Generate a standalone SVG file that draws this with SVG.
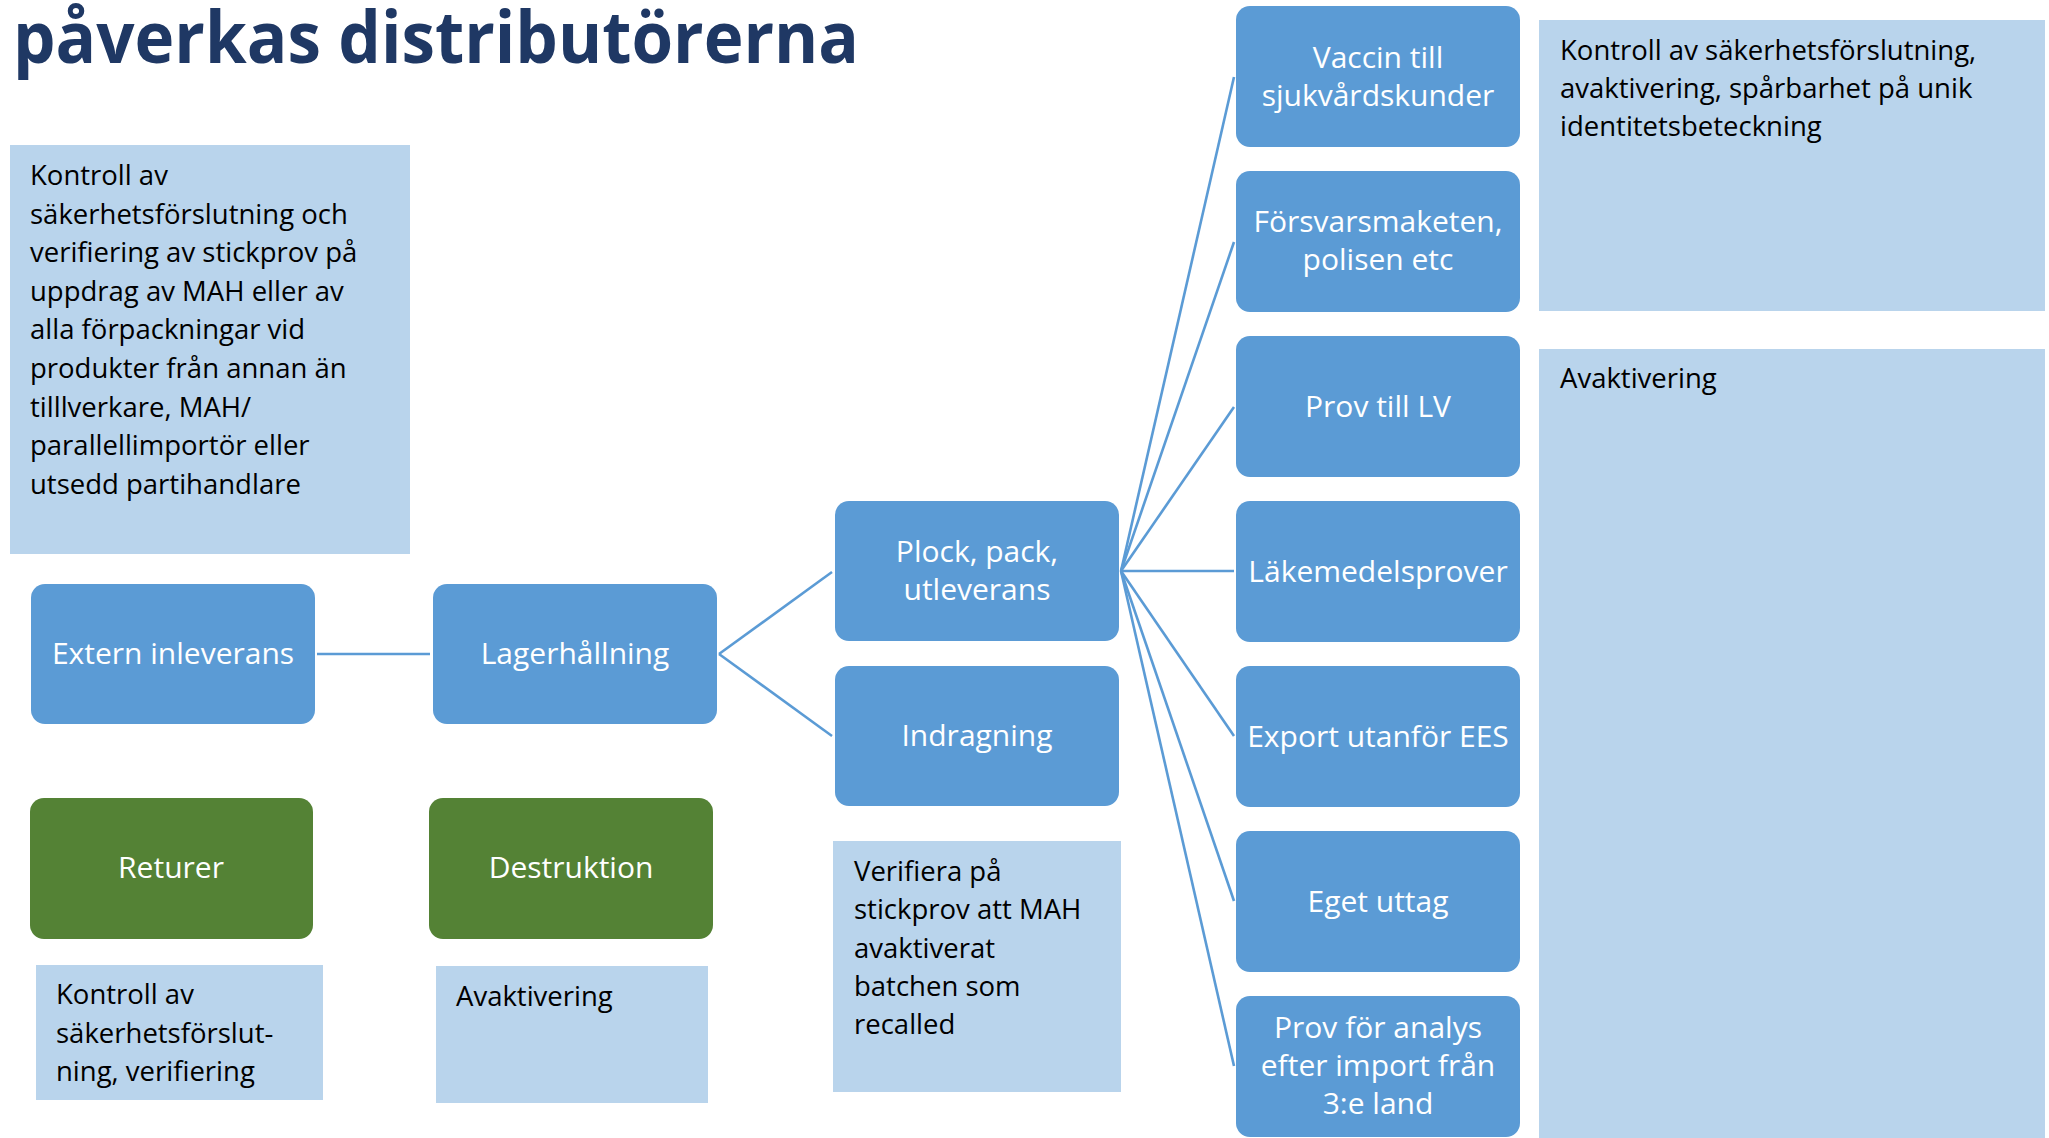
<svg xmlns="http://www.w3.org/2000/svg" width="2049" height="1138" viewBox="0 0 2049 1138">
<style>
.t{font-family:"Open Sans","Noto Sans","DejaVu Sans",sans-serif;}
.lbl{font-family:"Open Sans","Noto Sans","DejaVu Sans",sans-serif;font-size:30px;fill:#FFFFFF;text-anchor:middle;}
.note{font-family:"Open Sans","Noto Sans","DejaVu Sans",sans-serif;font-size:27.5px;fill:#000000;}
.blue{fill:#5B9BD5;}
.green{fill:#548235;}
.light{fill:#B9D4EC;}
.conn{stroke:#5B9BD5;stroke-width:2.6;fill:none;}
</style>
<rect width="2049" height="1138" fill="#FFFFFF"/>
<text class="t" x="13" y="63" font-size="71" font-weight="bold" fill="#1F3864" textLength="846" lengthAdjust="spacingAndGlyphs">påverkas distributörerna</text>

<g id="connectors">
<line class="conn" x1="317" y1="654" x2="430" y2="654"/>
<line class="conn" x1="719" y1="654" x2="832" y2="572"/>
<line class="conn" x1="719" y1="654" x2="832" y2="736"/>
<line class="conn" x1="1121" y1="571" x2="1234" y2="77"/>
<line class="conn" x1="1121" y1="571" x2="1234" y2="242"/>
<line class="conn" x1="1121" y1="571" x2="1234" y2="407"/>
<line class="conn" x1="1121" y1="571" x2="1234" y2="571"/>
<line class="conn" x1="1121" y1="571" x2="1234" y2="736"/>
<line class="conn" x1="1121" y1="571" x2="1234" y2="901"/>
<line class="conn" x1="1121" y1="571" x2="1234" y2="1066"/>
</g>

<g id="note-left">
<rect class="light" x="10" y="145" width="400" height="409"/>
<text class="note" x="30" y="185">Kontroll av</text>
<text class="note" x="30" y="224">säkerhetsförslutning och</text>
<text class="note" x="30" y="262">verifiering av stickprov på</text>
<text class="note" x="30" y="301">uppdrag av MAH eller av</text>
<text class="note" x="30" y="339">alla förpackningar vid</text>
<text class="note" x="30" y="378">produkter från annan än</text>
<text class="note" x="30" y="417">tilllverkare, MAH/</text>
<text class="note" x="30" y="455">parallellimportör eller</text>
<text class="note" x="30" y="494">utsedd partihandlare</text>
</g>

<g id="extern-inleverans">
<rect class="blue" x="31" y="584" width="284" height="140" rx="14"/>
<text class="lbl" x="173" y="664">Extern inleverans</text>
</g>
<g id="lagerhallning">
<rect class="blue" x="433" y="584" width="284" height="140" rx="14"/>
<text class="lbl" x="575" y="664">Lagerhållning</text>
</g>
<g id="plock">
<rect class="blue" x="835" y="501" width="284" height="140" rx="14"/>
<text class="lbl" x="977" y="562">Plock, pack,</text>
<text class="lbl" x="977" y="600">utleverans</text>
</g>
<g id="indragning">
<rect class="blue" x="835" y="666" width="284" height="140" rx="14"/>
<text class="lbl" x="977" y="746">Indragning</text>
</g>

<g id="returer">
<rect class="green" x="30" y="798" width="283" height="141" rx="14"/>
<text class="lbl" x="171" y="878">Returer</text>
</g>
<g id="destruktion">
<rect class="green" x="429" y="798" width="284" height="141" rx="14"/>
<text class="lbl" x="571" y="878">Destruktion</text>
</g>

<g id="note-returer">
<rect class="light" x="36" y="965" width="287" height="135"/>
<text class="note" x="56" y="1004">Kontroll av</text>
<text class="note" x="56" y="1043">säkerhetsförslut-</text>
<text class="note" x="56" y="1081">ning, verifiering</text>
</g>
<g id="note-destruktion">
<rect class="light" x="436" y="966" width="272" height="137"/>
<text class="note" x="456" y="1006">Avaktivering</text>
</g>
<g id="note-indragning">
<rect class="light" x="833" y="841" width="288" height="251"/>
<text class="note" x="854" y="881">Verifiera på</text>
<text class="note" x="854" y="919">stickprov att MAH</text>
<text class="note" x="854" y="958">avaktiverat</text>
<text class="note" x="854" y="996">batchen som</text>
<text class="note" x="854" y="1034">recalled</text>
</g>

<g id="vaccin">
<rect class="blue" x="1236" y="6" width="284" height="141" rx="14"/>
<text class="lbl" x="1378" y="68">Vaccin till</text>
<text class="lbl" x="1378" y="106">sjukvårdskunder</text>
</g>
<g id="forsvarsmakten">
<rect class="blue" x="1236" y="171" width="284" height="141" rx="14"/>
<text class="lbl" x="1378" y="232">Försvarsmaketen,</text>
<text class="lbl" x="1378" y="270">polisen etc</text>
</g>
<g id="prov-lv">
<rect class="blue" x="1236" y="336" width="284" height="141" rx="14"/>
<text class="lbl" x="1378" y="417">Prov till LV</text>
</g>
<g id="lakemedelsprover">
<rect class="blue" x="1236" y="501" width="284" height="141" rx="14"/>
<text class="lbl" x="1378" y="582">Läkemedelsprover</text>
</g>
<g id="export">
<rect class="blue" x="1236" y="666" width="284" height="141" rx="14"/>
<text class="lbl" x="1378" y="747">Export utanför EES</text>
</g>
<g id="eget-uttag">
<rect class="blue" x="1236" y="831" width="284" height="141" rx="14"/>
<text class="lbl" x="1378" y="912">Eget uttag</text>
</g>
<g id="prov-analys">
<rect class="blue" x="1236" y="996" width="284" height="141" rx="14"/>
<text class="lbl" x="1378" y="1038">Prov för analys</text>
<text class="lbl" x="1378" y="1076">efter import från</text>
<text class="lbl" x="1378" y="1114">3:e land</text>
</g>

<g id="note-right-top">
<rect class="light" x="1539" y="20" width="506" height="291"/>
<text class="note" x="1560" y="60">Kontroll av säkerhetsförslutning,</text>
<text class="note" x="1560" y="98">avaktivering, spårbarhet på unik</text>
<text class="note" x="1560" y="136">identitetsbeteckning</text>
</g>
<g id="note-right-bottom">
<rect class="light" x="1539" y="349" width="506" height="789"/>
<text class="note" x="1560" y="388">Avaktivering</text>
</g>
</svg>
